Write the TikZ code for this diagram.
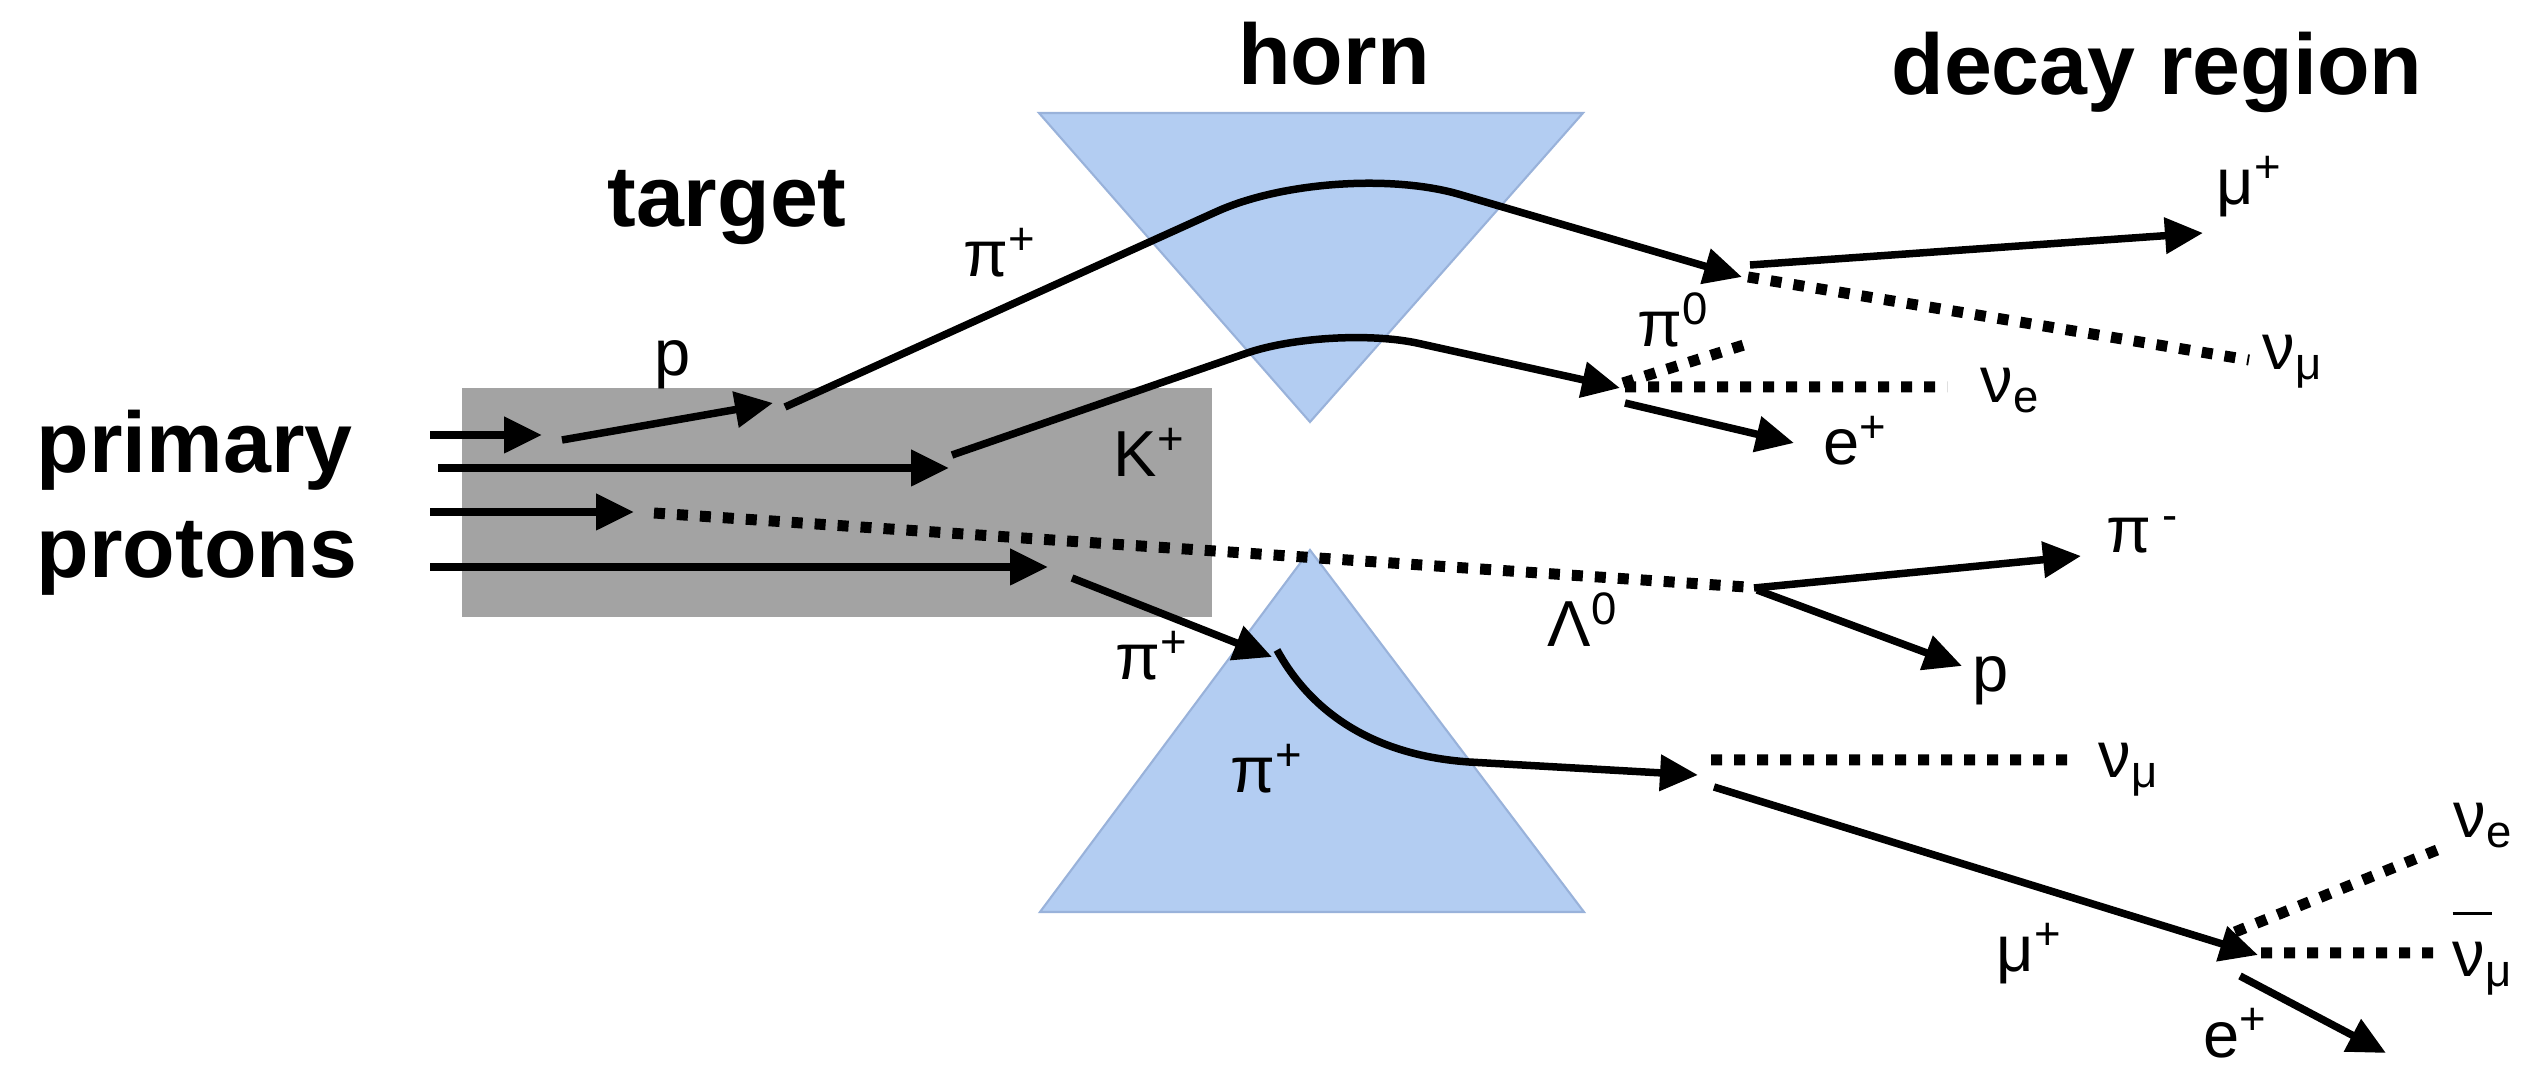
\documentclass[tikz,border=0pt]{standalone}
\usepackage{fontspec}
\setmainfont{Liberation Sans}
\usepackage{xcolor}
\usepackage{tikz}
\usetikzlibrary{arrows.meta}
\definecolor{ink}{HTML}{000000}
\definecolor{tgtgrey}{HTML}{A3A3A3}
\definecolor{hornfill}{HTML}{B3CDF2}
\definecolor{hornline}{HTML}{99B2DA}
\newcommand{\nubar}{\makebox[0pt][l]{\raisebox{0.95em}{\rule{0.6em}{0.045em}}}ν}

\begin{document}
\begin{tikzpicture}[
  title/.style={font=\fontsize{24.5}{29}\selectfont\bfseries, inner sep=0pt, anchor=base},
  lab/.style={font=\fontsize{18.5}{22}\selectfont, inner sep=0pt, anchor=base west},
  arr/.style={-{Triangle[length=0.38cm, width=0.35cm]}, draw=ink, line width=0.075cm},
  neut/.style={draw=ink, line width=0.11cm, dash pattern=on 0.11cm off 0.12cm},
  hornshape/.style={fill=hornfill, draw=hornline, line width=0.6pt}]
\useasboundingbox (0,0) rectangle (25.3,-10.8);
% target block and the two horn halves
\fill[tgtgrey] (4.62,-3.88) rectangle (12.12,-6.17);
\draw[hornshape] (10.39,-1.13) -- (15.83,-1.13) -- (13.10,-4.22) -- cycle;
\draw[hornshape] (13.10,-5.50) -- (15.84,-9.12) -- (10.40,-9.12) -- cycle;
% headings
\node[title] (horn)   at (13.34,-0.85) {horn};
\node[title] (decay)  at (21.57,-0.95) {decay region};
\node[title] (target) at (7.27,-2.27)  {target};
\node[title, anchor=base west] (prim) at (0.36,-4.73) {primary};
\node[title, anchor=base west] (prot) at (0.36,-5.78) {protons};
% track ends and decay vertices
\coordinate (in1) at (4.30,-4.35); \coordinate (hit1) at (5.42,-4.35);
\coordinate (in2) at (4.38,-4.68); \coordinate (hit2) at (9.49,-4.68);
\coordinate (in3) at (4.30,-5.12); \coordinate (hit3) at (6.34,-5.12);
\coordinate (in4) at (4.30,-5.67); \coordinate (hit4) at (10.48,-5.67);
\coordinate (pA) at (5.62,-4.40);  \coordinate (pB) at (7.73,-4.03);
\coordinate (piA) at (7.85,-4.07); \coordinate (piK) at (13.35,-1.58); \coordinate (piV) at (17.42,-2.77);
\coordinate (kA) at (9.52,-4.55);  \coordinate (kK) at (13.31,-3.24);  \coordinate (kV) at (16.20,-3.88);
\coordinate (lA) at (6.54,-5.13);  \coordinate (lV) at (17.46,-5.87);
\coordinate (qA) at (10.72,-5.78); \coordinate (qB) at (12.72,-6.57);
\coordinate (qC) at (12.77,-6.50); \coordinate (qK) at (14.69,-7.62); \coordinate (qV) at (16.98,-7.75);
\coordinate (mV) at (22.58,-9.55);
% incoming protons
\draw[arr] (in1) -- (hit1);
\draw[arr] (in2) -- (hit2);
\draw[arr] (in3) -- (hit3);
\draw[arr] (in4) -- (hit4);
% secondaries out of the target and through the horn
\draw[arr] (pA) -- (pB);
\draw[arr, rounded corners=1.3cm] (piA) -- (piK) -- (piV);
\draw[arr, rounded corners=0.9cm] (kA) -- (kK) -- (kV);
\draw[neut] (lA) -- (lV);
\draw[arr] (qA) -- (qB);
\draw[arr] (qC) .. controls (13.10,-7.10) and (13.70,-7.55) .. (qK) -- (qV);
% decays: pi+ -> mu+ nu_mu
\draw[arr] ([shift={(0.08,0.12)}]piV) -- (22.03,-2.33) coordinate (muA);
\draw[neut] ([shift={(0.06,0)}]piV) -- (22.49,-3.60) coordinate (numA);
% K+ -> pi0 e+ nu_e
\draw[neut] ([shift={(0.03,0.05)}]kV) -- (17.47,-3.44) coordinate (pi0);
\draw[neut] ([shift={(0.05,0.01)}]kV) -- (19.47,-3.87) coordinate (neA);
\draw[arr] ([shift={(0.05,-0.15)}]kV) -- (17.94,-4.43) coordinate (epA);
% Lambda0 -> pi- p
\draw[arr] ([shift={(0.08,-0.01)}]lV) -- (20.81,-5.56) coordinate (pim);
\draw[arr] ([shift={(0.11,-0.03)}]lV) -- (19.62,-6.66) coordinate (prB);
% pi+ -> mu+ nu_mu, then mu+ -> e+ nu_e nu_mu-bar
\draw[neut] ([shift={(0.13,0.15)}]qV) -- (20.68,-7.60) coordinate (numB);
\draw[arr] ([shift={(0.16,-0.12)}]qV) -- (mV);
\draw[neut] ([shift={(-0.23,0.23)}]mV) -- (24.42,-8.48) coordinate (neB);
\draw[neut] ([shift={(0.03,0.02)}]mV) -- (24.36,-9.53) coordinate (nbB);
\draw[arr] ([shift={(-0.18,-0.21)}]mV) -- (23.86,-10.53) coordinate (epB);
% particle labels
\node[lab] (lp)    at (6.54,-3.76)  {p};
\node[lab] (lpi)   at (9.63,-2.77)  {π\textsuperscript{+}};
\node[lab] (lk)    at (11.13,-4.77) {K\textsuperscript{+}};
\node[lab] (lpi0)  at (16.37,-3.47) {π\textsuperscript{0}};
\node[lab] (lmu)   at (22.16,-2.05) {μ\textsuperscript{+}};
\node[lab] (lnum)  at (22.62,-3.70) {ν\textsubscript{μ}};
\node[lab] (lne)   at (19.80,-4.03) {ν\textsubscript{e}};
\node[lab] (lep)   at (18.23,-4.65) {e\textsuperscript{+}};
\node[lab] (lpim)  at (21.06,-5.53) {π\,\textsuperscript{-}};
\node[lab] (llam)  at (15.47,-6.47) {Λ\textsuperscript{0}};
\node[lab] (lpr)   at (19.72,-6.92) {p};
\node[lab] (lpi2)  at (11.15,-6.80) {π\textsuperscript{+}};
\node[lab] (lpi3)  at (12.30,-7.93) {π\textsuperscript{+}};
\node[lab] (lnum2) at (20.98,-7.78) {ν\textsubscript{μ}};
\node[lab] (lmu2)  at (19.96,-9.72) {μ\textsuperscript{+}};
\node[lab] (lne2)  at (24.53,-8.38) {ν\textsubscript{e}};
\node[lab] (lnb)   at (24.52,-9.77) {\nubar\textsubscript{μ}};
\node[lab] (lep2)  at (22.03,-10.57) {e\textsuperscript{+}};
\end{tikzpicture}
\end{document}
